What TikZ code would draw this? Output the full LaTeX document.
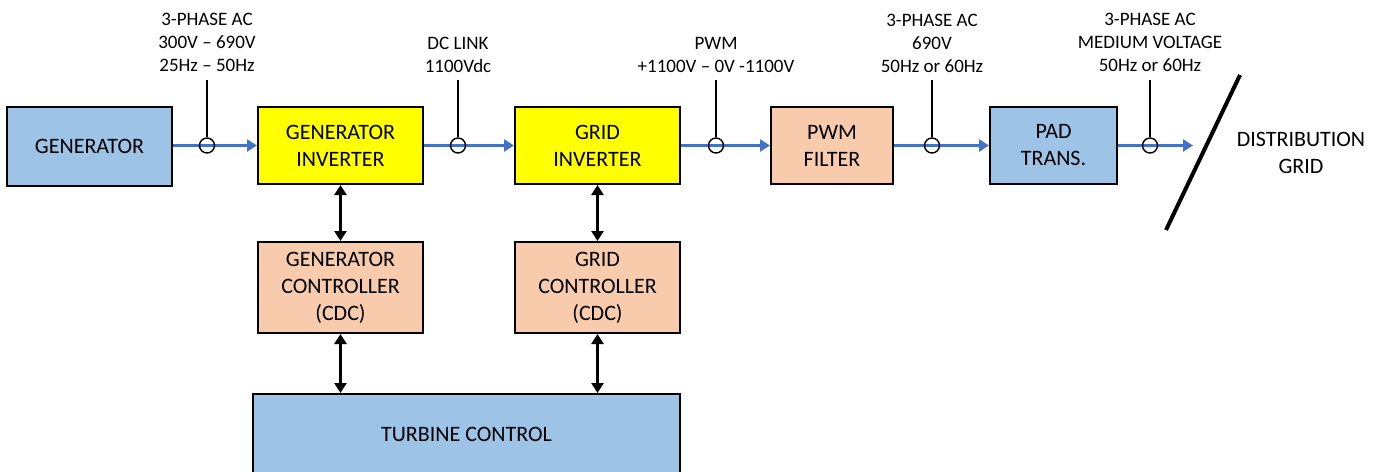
\documentclass[tikz,border=0pt]{standalone}
\usepackage{fontspec}
\setmainfont{Carlito}
\usetikzlibrary{arrows.meta}
\definecolor{boxblue}{HTML}{9DC3E6}
\definecolor{boxpeach}{HTML}{F8CBAD}
\definecolor{boxyellow}{HTML}{FFFF00}
\definecolor{flowblue}{HTML}{4472C4}
\tikzset{
  blk/.style={draw=black, line width=2pt, inner sep=0pt, align=center,
    font=\fontsize{22}{27}\selectfont},
  lbl/.style={inner sep=0pt, align=center, anchor=south,
    font=\fontsize{19}{23}\selectfont},
  flow/.style={draw=flowblue, line width=3pt, -{Triangle[width=12pt,length=10pt]}},
  ctl/.style={draw=black, line width=3pt, {Triangle[width=12pt,length=10pt]}-{Triangle[width=12pt,length=10pt]}},
  tapc/.style={circle, draw=black, line width=1.4pt, minimum size=15pt, inner sep=0pt},
  tapl/.style={draw=black, line width=1.4pt}
}
\begin{document}
\begin{tikzpicture}[x=1pt,y=-1pt]
\useasboundingbox (0,0) rectangle (1380,471);
\clip (0,0) rectangle (1380,471);
% blocks
\node[blk, fill=boxblue, minimum width=165pt, minimum height=79pt] (gen) at (89.5,146.5) {GENERATOR};
\node[blk, fill=boxyellow, minimum width=165pt, minimum height=77pt] (ginv) at (340.5,145.5) {GENERATOR\\INVERTER};
\node[blk, fill=boxyellow, minimum width=165pt, minimum height=77pt] (grinv) at (597.5,145.5) {GRID\\INVERTER};
\node[blk, fill=boxpeach, minimum width=122pt, minimum height=77pt] (pwmf) at (832,145.5) {PWM\\FILTER};
\node[blk, fill=boxblue, minimum width=127pt, minimum height=77pt] (pad) at (1053.5,145.5) {PAD\\TRANS.};
\node[blk, fill=boxpeach, minimum width=165pt, minimum height=91pt] (gctl) at (340.5,287.5) {GENERATOR\\CONTROLLER\\(CDC)};
\node[blk, fill=boxpeach, minimum width=165pt, minimum height=91pt] (grctl) at (597.5,287.5) {GRID\\CONTROLLER\\(CDC)};
\node[blk, fill=boxblue, minimum width=427pt, minimum height=80pt] (turb) at (466.5,434) {TURBINE CONTROL};
\node[inner sep=0pt, align=center, font=\fontsize{22}{27}\selectfont] (dist) at (1301,153) {DISTRIBUTION\\GRID};
% slash
\coordinate (s1) at (1240,75);
\coordinate (s2) at (1166,230);
\draw[line width=4pt] (s1) -- (s2);
% power flow
\coordinate (gridend) at (1193,145.5);
\draw[flow] (gen.east |- ginv.west) -- (ginv.west);
\draw[flow] (ginv.east) -- (grinv.west);
\draw[flow] (grinv.east) -- (pwmf.west);
\draw[flow] (pwmf.east) -- (pad.west);
\draw[flow] (pad.east) -- (gridend);
% taps
\node[tapc] (c1) at (207,145.5) {};
\node[tapc] (c2) at (458,145.5) {};
\node[tapc] (c3) at (716,145.5) {};
\node[tapc] (c4) at (932,145.5) {};
\node[tapc] (c5) at (1150,145.5) {};
\node[lbl] (l1) at (207,72) {3-PHASE AC\\300V -- 690V\\25Hz -- 50Hz};
\node[lbl] (l2) at (458,73) {DC LINK\\1100Vdc};
\node[lbl] (l3) at (716,73) {PWM\\+1100V -- 0V -1100V};
\node[lbl] (l4) at (932,73) {3-PHASE AC\\690V\\50Hz or 60Hz};
\node[lbl] (l5) at (1150,72) {3-PHASE AC\\MEDIUM VOLTAGE\\50Hz or 60Hz};
\coordinate (t1) at (207,80);
\coordinate (t2) at (458,80);
\coordinate (t3) at (716,80);
\coordinate (t4) at (932,80);
\coordinate (t5) at (1150,80);
\draw[tapl] (c1.north) -- (t1);
\draw[tapl] (c2.north) -- (t2);
\draw[tapl] (c3.north) -- (t3);
\draw[tapl] (c4.north) -- (t4);
\draw[tapl] (c5.north) -- (t5);
% control links
\draw[ctl] (ginv.south) -- (gctl.north);
\draw[ctl] (grinv.south) -- (grctl.north);
\draw[ctl] (gctl.south) -- (gctl.south |- turb.north);
\draw[ctl] (grctl.south) -- (grctl.south |- turb.north);
\end{tikzpicture}
\end{document}
